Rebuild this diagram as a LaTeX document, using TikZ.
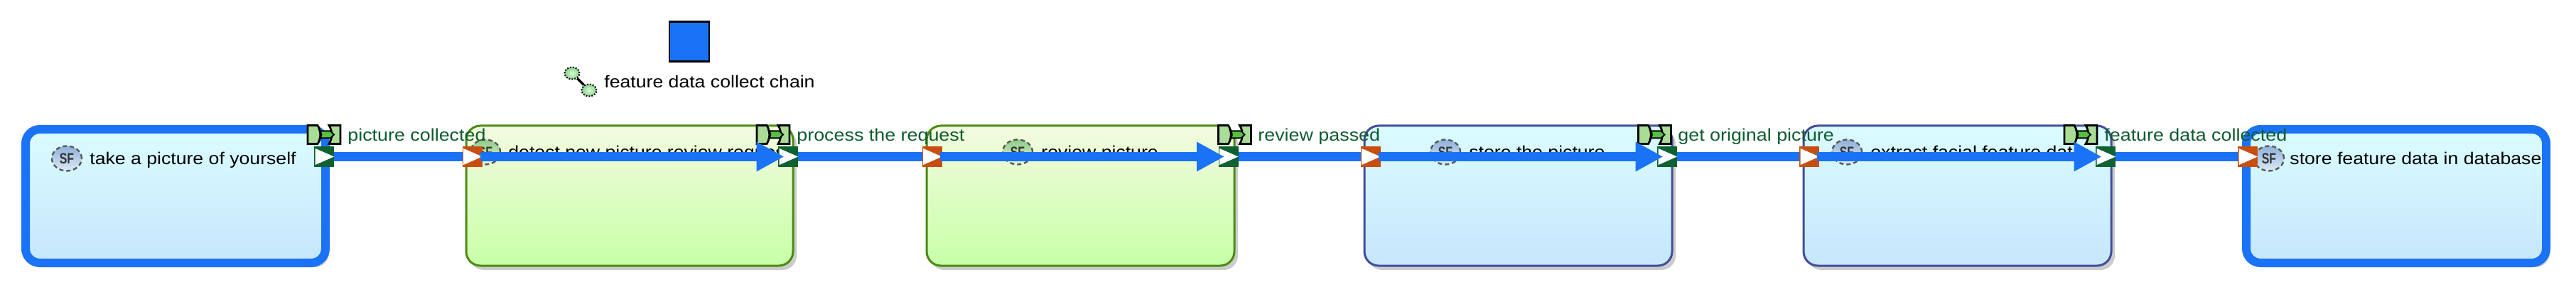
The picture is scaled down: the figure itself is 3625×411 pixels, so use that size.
\documentclass[tikz,border=0pt]{standalone}
\usepackage{fontspec}
\setmainfont{Liberation Sans}[FakeStretch=1.11]
\usetikzlibrary{arrows.meta,shadows,shapes.geometric}

\definecolor{flowblue}{HTML}{1A73F6}
\definecolor{edgeblue}{HTML}{444C9C}
\definecolor{edgegreen}{HTML}{4B8A14}
\definecolor{labelgreen}{HTML}{0E5C30}
\definecolor{portgreen}{HTML}{0E6133}
\definecolor{portorange}{HTML}{C84E10}
\definecolor{bluetop}{HTML}{DAFCFF}
\definecolor{bluebot}{HTML}{C6E7FC}
\definecolor{greentop}{HTML}{F3FBE0}
\definecolor{greenbot}{HTML}{C8FFA8}
\definecolor{eventfill}{HTML}{A9DC96}
\definecolor{eventcore}{HTML}{57C044}
\definecolor{balltop}{HTML}{8FB0D8}
\definecolor{ballbot}{HTML}{DCEBF7}
\definecolor{ballgreen}{HTML}{8FCB86}
\definecolor{ballpale}{HTML}{E2F5DA}

\tikzset{
  boxbase/.style={rectangle, rounded corners=10pt, inner sep=0pt, outer sep=0pt,
    drop shadow={shadow xshift=2.5pt, shadow yshift=-3pt, fill=black!20, opacity=1}},
  bluebox/.style={boxbase, draw=edgeblue, line width=1.5pt, top color=bluetop, bottom color=bluebot, minimum width=216.5pt, minimum height=98.5pt},
  greenbox/.style={boxbase, draw=edgegreen, line width=1.5pt, top color=greentop, bottom color=greenbot, minimum height=98.5pt},
  endbox/.style={boxbase, draw=flowblue, line width=6pt, top color=bluetop, bottom color=bluebot, minimum width=211pt, minimum height=94pt},
  sfball/.style={ellipse, draw=black!65, densely dashed, line width=1.2pt, inner sep=0pt, minimum width=21pt, minimum height=17.5pt,
    text=black!80, font=\fontsize{10.5}{12}\selectfont\bfseries},
  sfblue/.style={sfball, top color=balltop, bottom color=ballbot},
  sfgreen/.style={sfball, top color=ballgreen, bottom color=ballpale},
  tasktext/.style={anchor=base west, inner sep=0pt, font=\fontsize{12}{15}\selectfont},
  eventtext/.style={anchor=base west, inner sep=0pt, text=labelgreen, font=\fontsize{12.1}{15}\selectfont},
  portbase/.style={rectangle, inner sep=0pt, outer sep=0pt, minimum width=14pt, minimum height=14.5pt,
    path picture={\fill[white] ([xshift=0.8pt,yshift=5.8pt]path picture bounding box.west) -- ([xshift=0.8pt,yshift=-5.8pt]path picture bounding box.west) -- (path picture bounding box.east) -- cycle;}},
  outport/.style={portbase, fill=portgreen},
  inport/.style={portbase, fill=portorange},
  chainball/.style={ellipse, draw=black, densely dotted, line width=1pt, inner sep=0pt, minimum width=10.5pt, minimum height=8.5pt, inner color=white!85!green, outer color=green!55!black!45},
  flowlink/.style={draw=flowblue, line width=6.3pt},
  flowarrow/.style={flowlink, -{Triangle[length=19.5pt,width=19.5pt]}, shorten <=-1.5pt, shorten >=-4.25pt},
  eventmark/.pic={
    \draw[line width=1.4pt, fill=eventfill] (-23,-13) -- (-9,-13) .. controls (-4,-5) and (-4,5) .. (-9,13) -- (-23,13) -- cycle;
    \draw[line width=1.4pt, fill=eventfill] (7,-13) -- (23,-13) -- (23,13) -- (7,13) .. controls (12,5) and (12,-5) .. (7,-13) -- cycle;
    \draw[line width=1pt, fill=eventcore] (-6,-5) -- (9,-5) -- (14,0) -- (9,5) -- (-6,5) .. controls (-3,2) and (-3,-2) .. (-6,-5) -- cycle;
  }
}

\begin{document}
\begin{tikzpicture}[x=0.5pt,y=-0.5pt]

\useasboundingbox (0,0) rectangle (3625,411);

% CHAIN %%%%%%%%%%%%%%%%%%%%%%%%%%%%%%%%%%%%%%%%%%%%%%%%%%%%%%%%%%%%%%%%%%

\node[rectangle, draw=black, line width=1.2pt, fill=flowblue, minimum size=28pt, inner sep=0pt] (CHAIN) at (970,58.5) {};
\node[chainball] (CB1) at (805,103) {};
\node[chainball] (CB2) at (829,127) {};
\draw[line width=1.6pt] (CB1) -- (CB2);
\node[tasktext] (CT) at (850,124) {feature data collect chain};

% BOXES %%%%%%%%%%%%%%%%%%%%%%%%%%%%%%%%%%%%%%%%%%%%%%%%%%%%%%%%%%%%%%%%%%

\node[endbox] (B1) at (247,276) {};
\node[greenbox, minimum width=230pt] (B2) at (886,275.5) {};
\node[greenbox, minimum width=216.5pt] (B3) at (1520.5,275.5) {};
\node[bluebox] (B4) at (2136.5,275.5) {};
\node[bluebox] (B5) at (2754.5,275.5) {};
\node[endbox] (B6) at (3372,276) {};

% TASK TEXTS %%%%%%%%%%%%%%%%%%%%%%%%%%%%%%%%%%%%%%%%%%%%%%%%%%%%%%%%%%%%%

\node[sfblue] (S1) at (94,223) {\scalebox{.68}[1]{SF}};
\node[tasktext] (T1) at (126,232) {take a picture of yourself};
\node[sfgreen] (S2) at (683,214) {\scalebox{.68}[1]{SF}};
\node[tasktext] (T2) at (715,223) {detect new picture review request};
\node[sfgreen] (S3) at (1432,214) {\scalebox{.68}[1]{SF}};
\node[tasktext] (T3) at (1465,223) {review picture};
\node[sfblue] (S4) at (2034,214) {\scalebox{.68}[1]{SF}};
\node[tasktext] (T4) at (2067,223) {store the picture};
\node[sfblue] (S5) at (2599,214) {\scalebox{.68}[1]{SF}};
\node[tasktext] (T5) at (2632,223) {extract facial feature data};
\node[sfblue] (S6) at (3193,223) {\scalebox{.68}[1]{SF}};
\node[tasktext] (T6) at (3222,232) {store feature data in database};

% EVENTS %%%%%%%%%%%%%%%%%%%%%%%%%%%%%%%%%%%%%%%%%%%%%%%%%%%%%%%%%%%%%%%%%

\pic at (456,189.5) {eventmark};
\pic at (1088,189.5) {eventmark};
\pic at (1737.5,189.5) {eventmark};
\pic at (2328.5,189.5) {eventmark};
\pic at (2928,189.5) {eventmark};

\node[eventtext] (E1) at (489,199) {picture collected};
\node[eventtext] (E2) at (1121,199) {process the request};
\node[eventtext] (E3) at (1770,199) {review passed};
\node[eventtext] (E4) at (2361,199) {get original picture};
\node[eventtext] (E5) at (2961,199) {feature data collected};

% PORTS %%%%%%%%%%%%%%%%%%%%%%%%%%%%%%%%%%%%%%%%%%%%%%%%%%%%%%%%%%%%%%%%%%

\node[outport] (O1) at (456,220.5) {};
\node[inport] (I2) at (664.5,220.5) {};
\node[outport] (O2) at (1109,220.5) {};
\node[inport] (I3) at (1311.5,220.5) {};
\node[outport] (O3) at (1728.5,220.5) {};
\node[inport] (I4) at (1928.5,220.5) {};
\node[outport] (O4) at (2346,220.5) {};
\node[inport] (I5) at (2546,220.5) {};
\node[outport] (O5) at (2963,220.5) {};
\node[inport] (I6) at (3163,220.5) {};

% LINKS %%%%%%%%%%%%%%%%%%%%%%%%%%%%%%%%%%%%%%%%%%%%%%%%%%%%%%%%%%%%%%%%%%

\draw[flowlink] (O1) -- (I2);
\draw[flowarrow] (I2) -- (O2);
\draw[flowlink] (O2) -- (I3);
\draw[flowarrow] (I3) -- (O3);
\draw[flowlink] (O3) -- (I4);
\draw[flowarrow] (I4) -- (O4);
\draw[flowlink] (O4) -- (I5);
\draw[flowarrow] (I5) -- (O5);
\draw[flowlink] (O5) -- (I6);

\end{tikzpicture}
\end{document}
